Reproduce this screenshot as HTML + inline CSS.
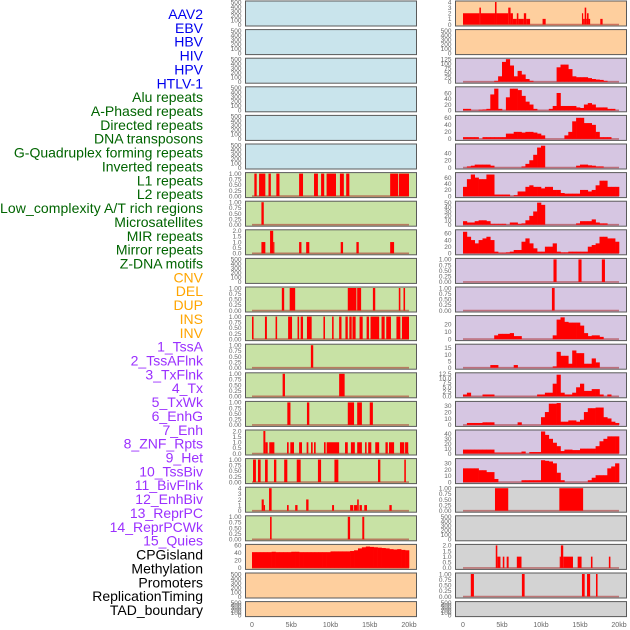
<!DOCTYPE html>
<html><head><meta charset="utf-8"><style>
html,body{margin:0;padding:0;background:#fff;}
svg{display:block;font-family:"Liberation Sans",sans-serif;}
</style></head><body>
<svg id="chart" width="630" height="630" viewBox="0 0 630 630" xmlns="http://www.w3.org/2000/svg"></svg>
<script>
// ---------- data ----------
const trackLabels = ["AAV2","EBV","HBV","HIV","HPV","HTLV-1","Alu repeats","A-Phased repeats","Directed repeats","DNA transposons","G-Quadruplex forming repeats","Inverted repeats","L1 repeats","L2 repeats","Low_complexity A/T rich regions","Microsatellites","MIR repeats","Mirror repeats","Z-DNA motifs","CNV","DEL","DUP","INS","INV","1_TssA","2_TssAFlnk","3_TxFlnk","4_Tx","5_TxWk","6_EnhG","7_Enh","8_ZNF_Rpts","9_Het","10_TssBiv","11_BivFlnk","12_EnhBiv","13_ReprPC","14_ReprPCWk","15_Quies","CPGisland","Methylation","Promoters","ReplicationTiming","TAD_boundary"];
const labelGroups = ["virus","virus","virus","virus","virus","virus","rep","rep","rep","rep","rep","rep","rep","rep","rep","rep","rep","rep","rep","sv","sv","sv","sv","sv","hmm","hmm","hmm","hmm","hmm","hmm","hmm","hmm","hmm","hmm","hmm","hmm","hmm","hmm","hmm","other","other","other","other","other"];
const xTickLabels = ["0","5kb","10kb","15kb","20kb"];
const xTickValues = [0,5,10,15,20];
const emptyTicks = [0,100,200,300,400,500];
const binTicks = [0,0.25,0.5,0.75,1];
const twoTicks = [0,0.5,1,1.5,2];

// segment tracks: [startKb, endKb, value]
const segL1 = [[0.3,0.6,1],[0.9,1.7,1],[2.1,2.4,1],[3.1,3.5,1],[6.0,6.5,1],[7.9,8.4,1],[8.8,9.2,1],[9.5,10.7,1],[11.2,11.7,1],[12.0,12.4,1],[17.6,18.6,1],[18.7,20.0,1]];
const segLowComplex = [[1.2,1.5,1]];
const segMicrosat = [[1.2,1.7,1],[2.3,2.7,2],[2.7,2.8,1],[6.0,6.3,1],[6.9,7.3,1],[11.3,11.6,1],[13.3,13.6,1],[17.6,18.1,1]];
const segMirror = [[3.8,4.1,1],[4.8,5.5,1],[12.2,13.3,1],[13.4,13.9,1],[15.4,15.7,1],[18.7,18.9,1],[19.3,19.5,1]];
const segZDNA = [[0.0,0.2,1],[1.65,1.9,1],[3.0,3.2,1],[4.6,5.1,1],[5.8,6.0,1],[6.2,6.5,1],[7.0,7.6,1],[9.1,9.3,1],[10.2,10.4,1],[11.1,11.4,1],[11.9,12.2,1],[12.4,12.7,1],[12.8,13.2,1],[13.7,14.1,1],[14.6,14.9,1],[15.1,16.2,1],[16.5,16.9,1],[17.1,17.7,1],[18.4,18.9,1],[19.1,20.0,1]];
const segDEL = [[7.5,7.8,1]];
const segDUP = [[3.9,4.2,1],[11.1,11.8,1]];
const segINS = [[4.5,4.9,1],[7.0,7.3,1],[12.2,13.0,1],[13.4,14.0,1],[15.0,15.4,1]];
const segINV = [[1.45,1.7,2],[1.7,2.0,1],[2.2,2.85,1],[4.46,4.67,1],[4.88,5.35,1],[6.0,6.37,1],[6.96,7.18,1],[7.52,7.73,1],[7.9,8.11,1],[9.17,9.38,1],[9.51,11.1,1],[11.85,12.2,1],[12.6,13.1,1],[13.4,14.0,1],[14.4,14.6,1],[14.8,15.2,1],[15.7,16.2,1],[17.0,17.3,1],[17.45,18.1,1],[18.85,19.4,1],[19.5,19.9,1]];
const segTssA = [[0.13,0.5,1],[0.76,1.1,1],[1.66,2.0,1],[2.8,3.1,1],[4.1,4.5,1],[5.7,6.2,1],[8.4,8.8,1],[10.5,11.0,1],[16.05,16.35,1],[19.4,19.6,1]];
const segTssAFlnk = [[1.23,1.5,2],[1.5,1.66,1],[2.17,2.5,4],[4.46,4.67,1],[5.5,5.8,1],[6.9,7.2,2],[10.2,10.45,1],[12.5,12.9,1],[13.0,13.4,1],[13.4,13.6,2],[13.7,14.0,1],[14.3,14.65,1],[17.5,17.8,1]];
const segTxFlnk = [[2.3,2.5,1],[12.2,12.5,1],[14.05,14.3,1]];
const segAAV2 = [[0,2.1,2],[2.1,2.3,3],[2.3,4.1,2],[4.1,4.3,4],[4.3,5.8,2],[5.8,6.1,3],[6.1,6.4,2],[6.4,6.9,1],[6.9,7.1,2],[7.1,7.8,1],[7.8,8.1,2],[8.1,8.6,1],[10.2,10.6,1],[15.25,15.4,2],[15.4,15.6,1],[15.6,15.8,3],[15.8,15.9,1],[15.9,16.1,2],[16.1,16.3,1],[17.6,17.9,1]];
const segBivA = [[11.6,12.0,1],[14.8,15.2,1],[17.8,18.2,1]];
const segBivB = [[11.4,11.75,1]];
const segGreyA = [[4.1,5.8,1],[12.35,15.4,1]];
const segGreyC = [[4.2,4.4,2],[4.4,4.8,1],[5.1,5.3,1],[5.6,5.85,1],[6.9,7.5,1],[12.4,12.55,1],[12.55,12.85,2],[12.85,14.1,1],[14.7,15.2,1],[16.4,16.6,1],[18.7,18.9,1]];
const segGreyD = [[1.0,1.4,1],[7.55,7.9,1],[15.25,15.6,1],[15.9,16.3,1],[17.05,17.25,1]];

// histogram tracks: 40 bins of 0.5 kb
const histCpG = [42,42,42,42,42,43,42,42,42,42,43,43,42,42,42,42,42,42,42,42,44,44,44,44,44,45,47,52,55,57,56,55,54,53,52,50,49,50,48,47];
const histHIV = [0,0,0,0,0,0,0,0,5,30,110,125,90,30,60,40,15,5,0,0,0,0,0,0,80,95,95,70,30,25,25,25,20,15,12,10,5,0,0,0];
const histAlu = [5,5,0,0,2,3,5,55,75,5,0,45,75,75,70,50,30,20,5,0,0,0,5,15,60,15,15,15,15,10,8,20,25,20,10,10,10,5,5,0];
const histDirected = [5,5,5,5,0,5,5,5,5,5,5,15,15,20,20,18,20,20,18,15,10,0,0,0,0,0,10,20,50,60,60,45,45,40,20,5,5,5,0,0];
const histAPhased = [0,3,5,8,8,8,8,5,0,0,0,0,0,0,0,3,10,20,35,55,60,0,0,0,0,0,0,0,0,5,8,8,6,5,3,3,0,0,0,0];
const histR6 = [30,55,70,60,55,55,70,70,5,5,5,5,0,3,15,15,30,35,30,30,25,30,30,20,20,10,8,8,8,8,20,20,15,20,35,50,50,30,30,30];
const histR7 = [8,5,5,8,10,10,8,2,2,2,2,0,5,5,2,3,10,20,30,50,45,0,0,0,0,0,0,0,0,3,8,8,8,12,5,3,3,0,0,0];
const histR8 = [65,50,40,30,40,45,50,40,5,2,2,3,5,10,10,35,45,30,15,5,5,20,20,30,5,3,3,5,5,5,5,5,20,25,30,50,50,45,45,35];
const histR11 = [0,0,0,0,0,0,0,0,5,7,7,7,8,4,4,0,0,0,0,0,0,0,0,5,26,29,23,22,22,22,18,8,4,5,5,3,0,0,0,0];
const histR12 = [0,0,0,0,0,0,0,2,2,0,0,0,0,2,0,0,0,0,0,0,0,0,0,1,12,9,9,3,13,11,11,3,3,7,4,0,0,0,0,0];
const histR13 = [1,2,0,0,0,1,1,1,0,0,0,0,0,0,0,0,0,0,0,1,1,2,2,7,12,2,1,1,2,5,7,3,3,4,4,1,0,1,0,0];
const histR14 = [0,3,3,3,3,4,4,4,0,0,0,0,0,0,4,0,0,0,0,0,12,20,33,33,34,5,5,7,7,5,8,20,26,26,27,27,12,10,5,3];
const histR15 = [8,8,8,8,8,8,8,8,2,2,2,2,2,2,2,4,0,3,3,3,45,38,30,22,15,5,8,8,7,7,10,10,10,10,15,25,30,35,35,35];
const histR16 = [22,22,22,22,19,19,16,16,5,0,0,0,0,0,0,3,3,3,3,3,35,34,33,30,15,3,0,0,0,0,0,0,3,7,11,11,11,22,25,30];

const BG = {blue:"#c9e4ec", green:"#c8e2a5", orange:"#fecf9e", purple:"#d6c6e2", grey:"#d3d3d3"};
const leftCol = [
 {bg:"blue",kind:"empty"},{bg:"blue",kind:"empty"},{bg:"blue",kind:"empty"},{bg:"blue",kind:"empty"},{bg:"blue",kind:"empty"},{bg:"blue",kind:"empty"},
 {bg:"green",kind:"seg",data:segL1,ymax:1,ticks:binTicks,fmt:2},
 {bg:"green",kind:"seg",data:segLowComplex,ymax:1,ticks:binTicks,fmt:2},
 {bg:"green",kind:"seg",data:segMicrosat,ymax:2,ticks:twoTicks,fmt:1},
 {bg:"green",kind:"empty"},
 {bg:"green",kind:"seg",data:segMirror,ymax:1,ticks:binTicks,fmt:2},
 {bg:"green",kind:"seg",data:segZDNA,ymax:1,ticks:binTicks,fmt:2},
 {bg:"green",kind:"seg",data:segDEL,ymax:1,ticks:binTicks,fmt:2},
 {bg:"green",kind:"seg",data:segDUP,ymax:1,ticks:binTicks,fmt:2},
 {bg:"green",kind:"seg",data:segINS,ymax:1,ticks:binTicks,fmt:2},
 {bg:"green",kind:"seg",data:segINV,ymax:2,ticks:twoTicks,fmt:1},
 {bg:"green",kind:"seg",data:segTssA,ymax:1,ticks:binTicks,fmt:2},
 {bg:"green",kind:"seg",data:segTssAFlnk,ymax:4,ticks:[0,1,2,3,4],fmt:0},
 {bg:"green",kind:"seg",data:segTxFlnk,ymax:1,ticks:binTicks,fmt:2},
 {bg:"orange",kind:"hist",data:histCpG,ymax:60,ticks:[0,20,40,60],fmt:0},
 {bg:"orange",kind:"empty"},{bg:"orange",kind:"empty"}
];
const rightCol = [
 {bg:"orange",kind:"seg",data:segAAV2,ymax:4,ticks:[0,1,2,3,4],fmt:0},
 {bg:"orange",kind:"empty"},
 {bg:"purple",kind:"hist",data:histHIV,ymax:125,ticks:[0,25,50,75,100,125],fmt:0},
 {bg:"purple",kind:"hist",data:histAlu,ymax:78,ticks:[0,20,40,60],fmt:0},
 {bg:"purple",kind:"hist",data:histDirected,ymax:64,ticks:[0,20,40,60],fmt:0},
 {bg:"purple",kind:"hist",data:histAPhased,ymax:62,ticks:[0,20,40],fmt:0},
 {bg:"purple",kind:"hist",data:histR6,ymax:73,ticks:[0,20,40,60],fmt:0},
 {bg:"purple",kind:"hist",data:histR7,ymax:51,ticks:[0,10,20,30,40,50],fmt:0},
 {bg:"purple",kind:"hist",data:histR8,ymax:68,ticks:[0,20,40,60],fmt:0},
 {bg:"purple",kind:"seg",data:segBivA,ymax:1,ticks:binTicks,fmt:2},
 {bg:"purple",kind:"seg",data:segBivB,ymax:1,ticks:binTicks,fmt:2},
 {bg:"purple",kind:"hist",data:histR11,ymax:30,ticks:[0,10,20],fmt:0},
 {bg:"purple",kind:"hist",data:histR12,ymax:17,ticks:[0,5,10,15],fmt:0},
 {bg:"purple",kind:"hist",data:histR13,ymax:12.5,ticks:[0,2.5,5,7.5,10,12.5],fmt:1},
 {bg:"purple",kind:"hist",data:histR14,ymax:35,ticks:[0,10,20,30],fmt:0},
 {bg:"purple",kind:"hist",data:histR15,ymax:46,ticks:[0,10,20,30,40],fmt:0},
 {bg:"purple",kind:"hist",data:histR16,ymax:36,ticks:[0,10,20,30],fmt:0},
 {bg:"grey",kind:"seg",data:segGreyA,ymax:1,ticks:binTicks,fmt:2},
 {bg:"grey",kind:"empty"},
 {bg:"grey",kind:"seg",data:segGreyC,ymax:2,ticks:twoTicks,fmt:1},
 {bg:"grey",kind:"seg",data:segGreyD,ymax:1,ticks:binTicks,fmt:2},
 {bg:"grey",kind:"empty"}
];

// ---------- drawing ----------
const NS = "http://www.w3.org/2000/svg";
const svg = document.getElementById("chart");
function mk(tag, attrs, parent){
  const e = document.createElementNS(NS, tag);
  for (const k in attrs) e.setAttribute(k, attrs[k]);
  (parent||svg).appendChild(e);
  return e;
}
const labelColor = {virus:"#0000ee", rep:"#006400", sv:"#ffa500", hmm:"#9b30ff", other:"#000"};
trackLabels.forEach((t,k)=>{
  const el = mk("text",{x:203,y:19+k*13.86,"text-anchor":"end","font-size":14,fill:labelColor[labelGroups[k]]});
  
  
  if (t.length > 28) el.setAttribute("textLength", 203);
  el.textContent = t;
});

function drawCol(cfgs, col){
  const px0 = col===0 ? 245.5 : 455.5;
  const w = 171;
  const xs = kb => (col===0 ? 252 : 463) + kb*(col===0 ? 7.85 : 7.8);
  cfgs.forEach((cfg,i)=>{
    const top = 1 + i*28.6;
    const h = i===21 ? 15 : 25;
    const g = mk("g",{});
    
    
    mk("rect",{x:px0,y:top,width:w,height:h,fill:BG[cfg.bg],stroke:"#5a5a5a","stroke-width":1},g);
    const ymax = cfg.kind==="empty" ? 500 : cfg.ymax;
    const ticks = cfg.kind==="empty" ? emptyTicks : cfg.ticks;
    const fmt = cfg.kind==="empty" ? 0 : cfg.fmt;
    const base = top + h - 1.5;
    const ys = v => base - v/ymax*(h-2.5);
    ticks.forEach(tv=>{
      const tl = mk("text",{x:px0-4,y:ys(tv)+2.3,"text-anchor":"end","font-size":6.5,fill:"#666"},g);
      
      
      tl.textContent = tv.toFixed(fmt);
    });
    if (cfg.kind==="empty") return;
    mk("line",{x1:xs(0),x2:xs(20),y1:base,y2:base,stroke:"rgba(170,40,40,0.55)","stroke-width":1.6},g);
    if (cfg.kind==="seg"){
      cfg.data.forEach(s=>{
        const b = mk("rect",{x:xs(s[0]),y:ys(s[2]),width:Math.max(1.2,xs(s[1])-xs(s[0])),height:base-ys(s[2]),fill:"#ff0000"},g);
        
        
      });
    } else {
      cfg.data.forEach((v,k)=>{
        if (v<=0) return;
        const b = mk("rect",{x:xs(k*0.5),y:ys(v),width:xs(0.5)-xs(0)+0.3,height:base-ys(v),fill:"#ff0000"},g);
        
        
      });
    }
  });
  xTickValues.forEach((v,k)=>{
    const t = mk("text",{x:xs(v),y:627,"text-anchor":"middle","font-size":7,fill:"#666"});
    
    
    t.textContent = xTickLabels[k];
  });
}
drawCol(leftCol,0);
drawCol(rightCol,1);
</script>
</body></html>
